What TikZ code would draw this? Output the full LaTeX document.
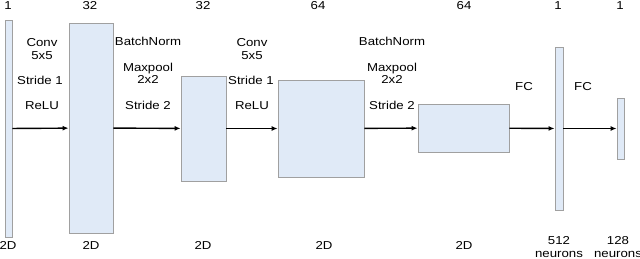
\documentclass[tikz,border=0pt]{standalone}
\usepackage{fontspec}
\setmainfont{Liberation Sans}
\usetikzlibrary{arrows.meta,positioning}
\definecolor{layerfill}{RGB}{224,234,247}
\definecolor{layerdraw}{RGB}{160,160,160}
\newcommand{\wtxt}[1]{\scalebox{1.15}[1]{\begin{tabular}{@{}c@{}}#1\end{tabular}}}
\tikzset{
  layer/.style={draw=layerdraw,fill=layerfill,line width=0.9pt,inner sep=0pt},
  flow/.style={line width=1.4pt,-{Latex[length=6pt,width=5pt]}},
  lbl/.style={font=\fontsize{11.5}{12.5}\selectfont,inner sep=0pt},
}
\begin{document}
\begin{tikzpicture}[x=1pt,y=-1pt]
    \useasboundingbox (0,0) rectangle (640,259);
    % ---------------- layers ----------------
    \node[layer,minimum width=7pt,minimum height=217pt] (in) at (8.5,128.5) {};
    \node[layer,minimum width=44pt,minimum height=210pt] (conva) at (91,128) {};
    \node[layer,minimum width=45pt,minimum height=105pt] (poola) at (203.5,128.5) {};
    \node[layer,minimum width=86pt,minimum height=97pt] (convb) at (321,128.5) {};
    \node[layer,minimum width=91pt,minimum height=48pt] (poolb) at (463.5,128) {};
    \node[layer,minimum width=8pt,minimum height=163pt] (fca) at (559,128.5) {};
    \node[layer,minimum width=7pt,minimum height=61pt] (fcb) at (620.5,128.5) {};
    % ---------------- connectors ----------------
    \draw[flow] (in) -- (conva);
    \draw[flow] (conva) -- (poola);
    \draw[flow] (poola) -- (convb);
    \draw[flow] (convb) -- (poolb);
    \draw[flow] (poolb) -- (fca);
    \draw[flow] (fca) -- (fcb);
    % ---------------- channel counts ----------------
    \node[lbl] (nin) at (8,7) {\wtxt{1}};
    \node[lbl] (nconva) at (90,7) {\wtxt{32}};
    \node[lbl] (npoola) at (203,7) {\wtxt{32}};
    \node[lbl] (nconvb) at (318,7) {\wtxt{64}};
    \node[lbl] (npoolb) at (464,7) {\wtxt{64}};
    \node[lbl] (nfca) at (558,7) {\wtxt{1}};
    \node[lbl] (nfcb) at (620,7) {\wtxt{1}};
    % ---------------- operations ----------------
    \node[lbl] (opconva) at (42,50.5) {\wtxt{Conv\\5x5}};
    \node[lbl] (opstra) at (40,82) {\wtxt{Stride 1}};
    \node[lbl] (oprelua) at (42,107) {\wtxt{ReLU}};
    \node[lbl] (opbna) at (148,43) {\wtxt{BatchNorm}};
    \node[lbl] (opmpa) at (148,75) {\wtxt{Maxpool\\2x2}};
    \node[lbl] (opstpa) at (148,107) {\wtxt{Stride 2}};
    \node[lbl] (opconvb) at (252,50.5) {\wtxt{Conv\\5x5}};
    \node[lbl] (opstrb) at (251,82) {\wtxt{Stride 1}};
    \node[lbl] (opreluab) at (252,107) {\wtxt{ReLU}};
    \node[lbl] (opbnb) at (392,43) {\wtxt{BatchNorm}};
    \node[lbl] (opmpb) at (392,75) {\wtxt{Maxpool\\2x2}};
    \node[lbl] (opstpb) at (392,107) {\wtxt{Stride 2}};
    \node[lbl] (opfca) at (524,88) {\wtxt{FC}};
    \node[lbl] (opfcb) at (583,88) {\wtxt{FC}};
    % ---------------- shapes ----------------
    \node[lbl] (din) at (8,247) {\wtxt{2D}};
    \node[lbl] (dconva) at (91,247) {\wtxt{2D}};
    \node[lbl] (dpoola) at (203,247) {\wtxt{2D}};
    \node[lbl] (dconvb) at (324,247) {\wtxt{2D}};
    \node[lbl] (dpoolb) at (464,247) {\wtxt{2D}};
    \node[lbl] (dfca) at (559,248.5) {\wtxt{512\\neurons}};
    \node[lbl] (dfcb) at (618,248.5) {\wtxt{128\\neurons}};
\end{tikzpicture}
\end{document}
